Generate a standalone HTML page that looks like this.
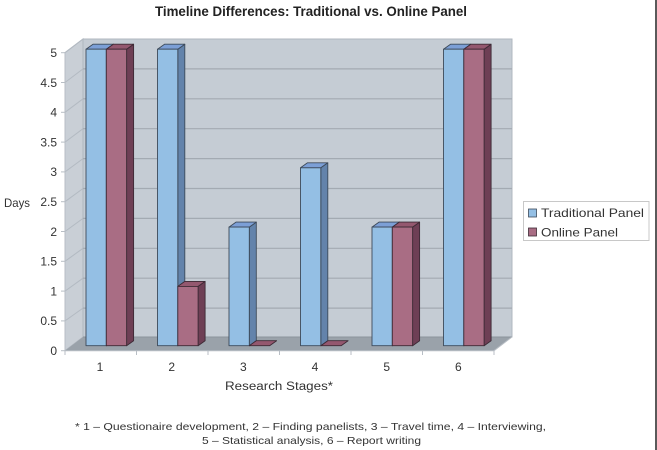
<!DOCTYPE html>
<html>
<head>
<meta charset="utf-8">
<style>
html,body{margin:0;padding:0;background:#fff;}
svg{display:block;}
text{font-family:"Liberation Sans",sans-serif;}
</style>
</head>
<body>
<svg width="657" height="450" viewBox="0 0 657 450" xmlns="http://www.w3.org/2000/svg">
<rect x="0" y="0" width="657" height="450" fill="#fff"/>
<rect x="655" y="0" width="2" height="450" fill="#5a5a5a"/>

<text x="155" y="16" font-size="14" font-weight="bold" fill="#222" textLength="312" lengthAdjust="spacingAndGlyphs">Timeline Differences: Traditional vs. Online Panel</text>

<polygon points="65,52.7 83,39 83,337 65,350.7" fill="#c9cfd6" stroke="#b0b7bf" stroke-width="1"/>
<rect x="83" y="39" width="429" height="298" fill="#c5ccd4" stroke="#b0b7bf" stroke-width="1"/>
<g stroke="#a3aab2" stroke-width="1.2">
<line x1="83" y1="68.9" x2="512" y2="68.9"/>
<line x1="83" y1="98.8" x2="512" y2="98.8"/>
<line x1="83" y1="128.7" x2="512" y2="128.7"/>
<line x1="83" y1="158.6" x2="512" y2="158.6"/>
<line x1="83" y1="188.5" x2="512" y2="188.5"/>
<line x1="83" y1="218.4" x2="512" y2="218.4"/>
<line x1="83" y1="248.3" x2="512" y2="248.3"/>
<line x1="83" y1="278.2" x2="512" y2="278.2"/>
<line x1="83" y1="308.1" x2="512" y2="308.1"/>
</g>
<g stroke="#b3bac2" stroke-width="1">
<line x1="65" y1="52.7" x2="83" y2="39"/>
<line x1="65" y1="82.5" x2="83" y2="68.9"/>
<line x1="65" y1="112.3" x2="83" y2="98.8"/>
<line x1="65" y1="142.1" x2="83" y2="128.7"/>
<line x1="65" y1="171.9" x2="83" y2="158.6"/>
<line x1="65" y1="201.7" x2="83" y2="188.5"/>
<line x1="65" y1="231.5" x2="83" y2="218.4"/>
<line x1="65" y1="261.3" x2="83" y2="248.3"/>
<line x1="65" y1="291.1" x2="83" y2="278.2"/>
<line x1="65" y1="320.9" x2="83" y2="308.1"/>
</g>
<polygon points="65,350.7 83,337 512,337 494,350.7" fill="#9aa2aa"/>
<line x1="83" y1="337" x2="512" y2="337" stroke="#8c949c" stroke-width="1"/>

<line x1="65" y1="52" x2="65" y2="351" stroke="#b8bec5" stroke-width="1"/>
<line x1="65" y1="350.7" x2="494" y2="350.7" stroke="#b8bec5" stroke-width="1"/>
<g stroke="#b8bec5" stroke-width="1">
<line x1="61" y1="52.7" x2="65" y2="52.7"/>
<line x1="61" y1="82.5" x2="65" y2="82.5"/>
<line x1="61" y1="112.3" x2="65" y2="112.3"/>
<line x1="61" y1="142.1" x2="65" y2="142.1"/>
<line x1="61" y1="171.9" x2="65" y2="171.9"/>
<line x1="61" y1="201.7" x2="65" y2="201.7"/>
<line x1="61" y1="231.5" x2="65" y2="231.5"/>
<line x1="61" y1="261.3" x2="65" y2="261.3"/>
<line x1="61" y1="291.1" x2="65" y2="291.1"/>
<line x1="61" y1="320.9" x2="65" y2="320.9"/>
<line x1="61" y1="350.7" x2="65" y2="350.7"/>
<line x1="65" y1="350.7" x2="65" y2="355"/>
<line x1="136.5" y1="350.7" x2="136.5" y2="355"/>
<line x1="208" y1="350.7" x2="208" y2="355"/>
<line x1="279.5" y1="350.7" x2="279.5" y2="355"/>
<line x1="351" y1="350.7" x2="351" y2="355"/>
<line x1="422.5" y1="350.7" x2="422.5" y2="355"/>
<line x1="494" y1="350.7" x2="494" y2="355"/>
<line x1="494" y1="350.7" x2="512" y2="337"/>
</g>

<g font-size="12" fill="#333" text-anchor="end">
<text x="57" y="57">5</text>
<text x="57" y="86.8">4.5</text>
<text x="57" y="116.6">4</text>
<text x="57" y="146.4">3.5</text>
<text x="57" y="176.2">3</text>
<text x="57" y="206">2.5</text>
<text x="57" y="235.8">2</text>
<text x="57" y="265.6">1.5</text>
<text x="57" y="295.4">1</text>
<text x="57" y="325.2">0.5</text>
<text x="57" y="355">0</text>
</g>
<text x="4" y="207" font-size="12" fill="#333" textLength="26" lengthAdjust="spacingAndGlyphs">Days</text>

<g font-size="12" fill="#333" text-anchor="middle">
<text x="100" y="371">1</text>
<text x="171.7" y="371">2</text>
<text x="243.3" y="371">3</text>
<text x="315" y="371">4</text>
<text x="386.7" y="371">5</text>
<text x="458.3" y="371">6</text>
</g>
<text x="225" y="390" font-size="11.5" fill="#333" textLength="108" lengthAdjust="spacingAndGlyphs">Research Stages*</text>

<g stroke="#3d4a5a" stroke-width="0.9" stroke-linejoin="round">
<polygon points="106.3,49.2 113.3,44.2 113.3,340.7 106.3,345.7" fill="#6383ab"/>
<polygon points="86,49.2 93,44.2 113.3,44.2 106.3,49.2" fill="#7c9fd6"/>
<rect x="86" y="49.2" width="20.3" height="296.5" fill="#94bfe4"/>
<polygon points="177.8,49.2 184.8,44.2 184.8,340.7 177.8,345.7" fill="#6383ab"/>
<polygon points="157.5,49.2 164.5,44.2 184.8,44.2 177.8,49.2" fill="#7c9fd6"/>
<rect x="157.5" y="49.2" width="20.3" height="296.5" fill="#94bfe4"/>
<polygon points="249.3,227.1 256.3,222.1 256.3,340.7 249.3,345.7" fill="#6383ab"/>
<polygon points="229,227.1 236,222.1 256.3,222.1 249.3,227.1" fill="#7c9fd6"/>
<rect x="229" y="227.1" width="20.3" height="118.6" fill="#94bfe4"/>
<polygon points="320.8,167.8 327.8,162.8 327.8,340.7 320.8,345.7" fill="#6383ab"/>
<polygon points="300.5,167.8 307.5,162.8 327.8,162.8 320.8,167.8" fill="#7c9fd6"/>
<rect x="300.5" y="167.8" width="20.3" height="177.9" fill="#94bfe4"/>
<polygon points="392.3,227.1 399.3,222.1 399.3,340.7 392.3,345.7" fill="#6383ab"/>
<polygon points="372,227.1 379,222.1 399.3,222.1 392.3,227.1" fill="#7c9fd6"/>
<rect x="372" y="227.1" width="20.3" height="118.6" fill="#94bfe4"/>
<polygon points="463.8,49.2 470.8,44.2 470.8,340.7 463.8,345.7" fill="#6383ab"/>
<polygon points="443.5,49.2 450.5,44.2 470.8,44.2 463.8,49.2" fill="#7c9fd6"/>
<rect x="443.5" y="49.2" width="20.3" height="296.5" fill="#94bfe4"/>
</g>

<g stroke="#3d2a35" stroke-width="0.9" stroke-linejoin="round">
<polygon points="126.6,49.2 133.6,44.2 133.6,340.7 126.6,345.7" fill="#6e3f55"/>
<polygon points="106.3,49.2 113.3,44.2 133.6,44.2 126.6,49.2" fill="#94586f"/>
<rect x="106.3" y="49.2" width="20.3" height="296.5" fill="#a96d84"/>
<polygon points="198.1,286.4 205.1,281.4 205.1,340.7 198.1,345.7" fill="#6e3f55"/>
<polygon points="177.8,286.4 184.8,281.4 205.1,281.4 198.1,286.4" fill="#94586f"/>
<rect x="177.8" y="286.4" width="20.3" height="59.3" fill="#a96d84"/>
<polygon points="249.3,345.7 256.3,340.7 276.6,340.7 269.6,345.7" fill="#94586f"/>
<polygon points="320.8,345.7 327.8,340.7 348.1,340.7 341.1,345.7" fill="#94586f"/>
<polygon points="412.6,227.1 419.6,222.1 419.6,340.7 412.6,345.7" fill="#6e3f55"/>
<polygon points="392.3,227.1 399.3,222.1 419.6,222.1 412.6,227.1" fill="#94586f"/>
<rect x="392.3" y="227.1" width="20.3" height="118.6" fill="#a96d84"/>
<polygon points="484.1,49.2 491.1,44.2 491.1,340.7 484.1,345.7" fill="#6e3f55"/>
<polygon points="463.8,49.2 470.8,44.2 491.1,44.2 484.1,49.2" fill="#94586f"/>
<rect x="463.8" y="49.2" width="20.3" height="296.5" fill="#a96d84"/>
</g>

<rect x="523.5" y="201.5" width="125.5" height="39" fill="#fff" stroke="#c8c8c8" stroke-width="1"/>
<rect x="528.5" y="209" width="8" height="8" fill="#94bfe4" stroke="#3d4a5a" stroke-width="0.8"/>
<rect x="528.5" y="228" width="8" height="8" fill="#a96d84" stroke="#3d2a35" stroke-width="0.8"/>
<text x="541" y="217" font-size="12" fill="#333" textLength="103" lengthAdjust="spacingAndGlyphs">Traditional Panel</text>
<text x="541" y="236.3" font-size="12" fill="#333" textLength="77" lengthAdjust="spacingAndGlyphs">Online Panel</text>

<text x="75" y="430" font-size="10.5" fill="#333" textLength="471" lengthAdjust="spacingAndGlyphs">* 1 – Questionaire development, 2 – Finding panelists, 3 – Travel time, 4 – Interviewing,</text>
<text x="202" y="444" font-size="10.5" fill="#333" textLength="219" lengthAdjust="spacingAndGlyphs">5 – Statistical analysis, 6 – Report writing</text>
</svg>
</body>
</html>
